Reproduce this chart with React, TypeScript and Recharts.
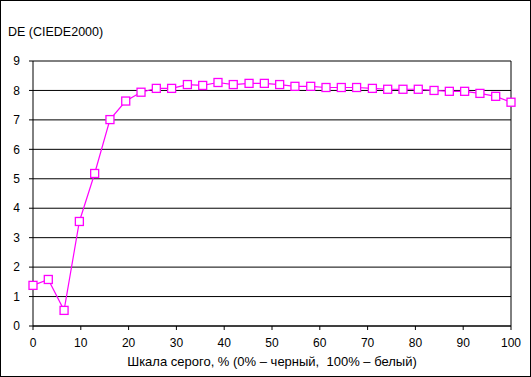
import React from "react";
import { LineChart, Line, XAxis, YAxis, CartesianGrid, ReferenceLine } from "recharts";

const grayPercent = [0, 3.2, 6.5, 9.7, 12.9, 16.1, 19.4, 22.6, 25.8, 29.0, 32.3, 35.5, 38.7, 41.9, 45.2, 48.4, 51.6, 54.8, 58.1, 61.3, 64.5, 67.7, 71.0, 74.2, 77.4, 80.6, 83.9, 87.1, 90.3, 93.5, 96.8, 100];
const deValues = [1.38, 1.58, 0.53, 3.55, 5.18, 7.01, 7.64, 7.94, 8.07, 8.07, 8.2, 8.17, 8.27, 8.2, 8.24, 8.24, 8.2, 8.14, 8.14, 8.1, 8.1, 8.1, 8.07, 8.04, 8.04, 8.04, 8.0, 7.97, 7.97, 7.9, 7.8, 7.6];
const xTicks = [0, 10, 20, 30, 40, 50, 60, 70, 80, 90, 100];
const yTicks = [0, 1, 2, 3, 4, 5, 6, 7, 8, 9];
const title = "DE (CIEDE2000)";
const xLabel = "Шкала серого, % (0% – черный,\u00A0 100% – белый)";

const data = grayPercent.map((x, i) => ({ x, de: deValues[i] }));

const FONT = "'Liberation Sans', Arial, sans-serif";

const SquareDot = (props: any) => {
  const { cx, cy } = props;
  if (cx == null || cy == null) return null;
  return <rect x={cx - 4} y={cy - 4} width={8} height={8} fill="#ffffff" stroke="#ff00ff" strokeWidth={1.3} />;
};

export default function App() {
  return (
    <div style={{ position: "absolute", left: 0, top: 0, width: 531, height: 377, background: "#fff", fontFamily: FONT }}>
      <LineChart width={531} height={377} data={data} margin={{ top: 61, right: 20, left: 0, bottom: 0 }}>
        <CartesianGrid horizontal={true} vertical={false} stroke="#000" strokeWidth={1} />
        <XAxis
          dataKey="x"
          type="number"
          domain={[0, 100]}
          ticks={xTicks}
          interval={0}
          height={51}
          tickSize={4}
          tickMargin={8}
          axisLine={{ stroke: "#000" }}
          tickLine={{ stroke: "#000" }}
          tick={{ fill: "#000", fontSize: 12, fontFamily: FONT }}
          label={{ value: xLabel, position: "insideBottom", offset: 11, fill: "#000", fontSize: 13, fontFamily: FONT }}
        />
        <YAxis
          type="number"
          domain={[0, 9]}
          ticks={yTicks}
          interval={0}
          width={33}
          tickSize={4}
          tickMargin={9}
          axisLine={{ stroke: "#000" }}
          tickLine={{ stroke: "#000" }}
          tick={{ fill: "#000", fontSize: 12, fontFamily: FONT }}
        />
        <ReferenceLine x={100} stroke="#000" strokeWidth={1} />
        <Line
          type="linear"
          dataKey="de"
          stroke="#ff00ff"
          strokeWidth={1.2}
          dot={<SquareDot />}
          activeDot={false}
          isAnimationActive={false}
        />
      </LineChart>
      <div style={{ position: "absolute", left: 8, top: 25, fontSize: 12.5, color: "#000", fontFamily: FONT, lineHeight: "14px", whiteSpace: "nowrap" }}>
        {title}
      </div>
      <div style={{ position: "absolute", left: 0, top: 0, width: 531, height: 377, border: "1px solid #000", boxSizing: "border-box", pointerEvents: "none" }} />
    </div>
  );
}
